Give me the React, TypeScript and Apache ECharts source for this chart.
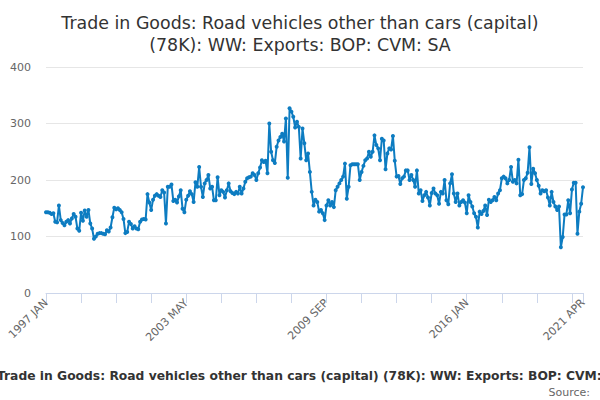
import React, { useEffect, useRef } from "react";
import * as echarts from "echarts";

const MONTHS = ["JAN", "FEB", "MAR", "APR", "MAY", "JUN", "JUL", "AUG", "SEP", "OCT", "NOV", "DEC"];
const START_YEAR = 1997;
const COUNT = 292; // 1997 JAN .. 2021 APR

const v1997 = [143, 143, 142, 140, 141, 126, 125, 155, 129, 124, 120, 126];
const v1998 = [129, 123, 132, 140, 135, 114, 110, 142, 128, 146, 135, 147];
const v1999 = [123, 114, 96, 100, 105, 106, 106, 105, 104, 111, 109, 116];
const v2000 = [134, 151, 148, 150, 147, 143, 131, 106, 108, 126, 122, 114];
const v2001 = [118, 114, 113, 126, 130, 131, 130, 175, 160, 147, 165, 172];
const v2002 = [175, 172, 170, 182, 178, 123, 188, 188, 192, 163, 165, 160];
const v2003 = [171, 182, 149, 143, 165, 172, 180, 175, 161, 196, 188, 223];
const v2004 = [188, 170, 194, 200, 209, 185, 188, 164, 164, 205, 173, 182];
const v2005 = [179, 169, 182, 194, 180, 177, 175, 179, 176, 188, 176, 185];
const v2006 = [197, 203, 205, 206, 212, 209, 200, 212, 222, 235, 232, 234];
const v2007 = [212, 300, 250, 235, 230, 259, 270, 276, 282, 268, 309, 204];
const v2008 = [327, 321, 312, 293, 303, 294, 238, 291, 265, 235, 247, 214];
const v2009 = [179, 155, 165, 161, 144, 147, 141, 129, 155, 164, 155, 161];
const v2010 = [152, 182, 188, 194, 200, 206, 229, 167, 188, 226, 228, 228];
const v2011 = [228, 228, 200, 214, 225, 235, 238, 250, 241, 250, 279, 262];
const v2012 = [256, 235, 273, 270, 219, 247, 256, 254, 278, 234, 206, 207];
const v2013 = [193, 203, 206, 217, 217, 200, 209, 200, 188, 217, 176, 182];
const v2014 = [163, 173, 179, 169, 155, 177, 185, 176, 173, 158, 179, 176];
const v2015 = [200, 164, 157, 194, 210, 176, 161, 176, 155, 161, 164, 160];
const v2016 = [141, 173, 161, 153, 141, 135, 116, 144, 140, 145, 155, 138];
const v2017 = [165, 161, 164, 170, 164, 176, 182, 203, 206, 203, 194, 200];
const v2018 = [223, 197, 200, 194, 236, 173, 175, 200, 203, 213, 258, 193];
const v2019 = [220, 212, 200, 190, 176, 182, 180, 182, 169, 155, 179, 161];
const v2020 = [153, 147, 153, 81, 99, 139, 139, 164, 141, 183, 195, 195];
const v2021 = [105, 144, 158, 187];

const values = [
  ...v1997, ...v1998, ...v1999, ...v2000, ...v2001, ...v2002, ...v2003, ...v2004,
  ...v2005, ...v2006, ...v2007, ...v2008, ...v2009, ...v2010, ...v2011, ...v2012,
  ...v2013, ...v2014, ...v2015, ...v2016, ...v2017, ...v2018, ...v2019, ...v2020, ...v2021,
];

const categories: string[] = [];
for (let i = 0; i < COUNT; i++) {
  categories.push(`${START_YEAR + Math.floor(i / 12)} ${MONTHS[i % 12]}`);
}

const TITLE = "Trade in Goods: Road vehicles other than cars (capital)\n(78K): WW: Exports: BOP: CVM: SA";
const SUBTITLE = "Trade in Goods: Road vehicles other than cars (capital) (78K): WW: Exports: BOP: CVM: SA";
const SOURCE = "Source:";
const Y_MIN = 0;
const Y_MAX = 400;
const Y_STEP = 100;

export default function App() {
  const ref = useRef<HTMLDivElement>(null);
  useEffect(() => {
    document.body.style.margin = "0";
    const chart = echarts.init(ref.current!, undefined, { renderer: "svg" });
    const font = "DejaVu Sans";
    const last = COUNT - 1;
    chart.setOption({
      animation: false,
      backgroundColor: "#ffffff",
      title: {
        text: TITLE,
        left: "center",
        top: 7,
        textStyle: { fontSize: 17.4, fontWeight: "normal", color: "#333333", fontFamily: font, lineHeight: 22 },
      },
      grid: { left: 46, right: 17, top: 67, bottom: 107, containLabel: false },
      xAxis: {
        type: "category",
        data: categories,
        boundaryGap: false,
        axisLine: { lineStyle: { color: "#ccd6eb", width: 1 } },
        axisTick: {
          length: 10,
          lineStyle: { color: "#ccd6eb" },
          interval: (i: number) => i % 19 === 0 || i === last,
        },
        axisLabel: {
          rotate: 45,
          color: "#666666",
          fontSize: 11,
          fontFamily: font,
          margin: 8,
          interval: (i: number) => i % 76 === 0 || i === last,
        },
        splitLine: { show: false },
      },
      yAxis: {
        type: "value",
        min: Y_MIN,
        max: Y_MAX,
        interval: Y_STEP,
        axisLine: { show: false },
        axisTick: { show: false },
        axisLabel: { color: "#666666", fontSize: 11, fontFamily: font, margin: 15 },
        splitLine: { lineStyle: { color: "#e6e6e6", width: 1 } },
      },
      series: [
        {
          type: "line",
          data: values,
          symbol: "circle",
          symbolSize: 4,
          showAllSymbol: true,
          itemStyle: { color: "#0d7cc1" },
          lineStyle: { color: "#0d7cc1", width: 2 },
        },
      ],
      graphic: [
        {
          type: "text",
          x: -3,
          y: 376,
          style: {
            text: SUBTITLE,
            textAlign: "left",
            textVerticalAlign: "middle",
            font: `bold 12.3px "${font}"`,
            fill: "#333333",
          },
        },
        {
          type: "text",
          x: 590,
          y: 392,
          style: {
            text: SOURCE,
            textAlign: "right",
            textVerticalAlign: "middle",
            font: `11px "${font}"`,
            fill: "#666666",
          },
        },
      ],
    });
    return () => chart.dispose();
  }, []);
  return <div ref={ref} style={{ width: 600, height: 400 }} />;
}
